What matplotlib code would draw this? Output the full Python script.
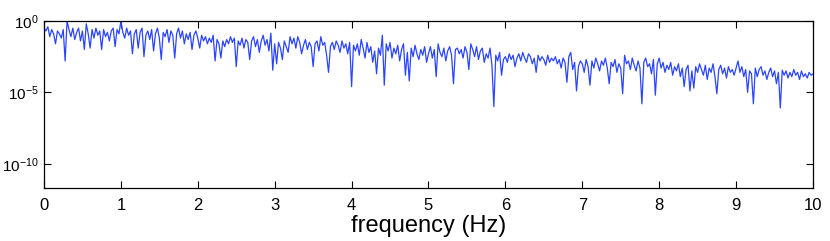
import numpy as np
import matplotlib
matplotlib.use("Agg")
import matplotlib.pyplot as plt
import matplotlib.ticker as ticker

plt.rcParams['font.family'] = ['Liberation Sans', 'DejaVu Sans']
plt.rcParams['mathtext.default'] = 'regular'

# log10 of the spectrum, one list per 1 Hz band (0.025 Hz steps)
band_0 = [-0.5, -0.7, -0.4, -1.1, -0.6, -0.9, -1.6, -0.7, -0.9, -1.2, -0.6, -2.8, 0.0, -0.6, -1.1, -0.5, -1.3, -0.8, -0.5, -1.4,
          -0.7, -2.0, -0.2, -0.9, -1.9, -0.6, -1.2, -0.5, -1.0, -0.7, -2.0, -0.6, -1.1, -0.8, -1.4, -0.7, -0.5, -1.8, -0.6, -0.9]
band_1 = [-0.0, -0.8, -1.2, -0.5, -1.0, -0.7, -2.3, -0.9, -0.6, -1.9, -0.8, -0.5, -2.5, -1.0, -0.7, -1.3, -0.6, -2.1, -0.9, -0.5,
          -1.2, -2.7, -0.8, -1.1, -0.6, -1.5, -0.7, -1.0, -2.6, -0.9, -0.5, -1.2, -0.7, -1.6, -0.9, -1.3, -0.8, -2.0, -1.0, -0.7]
band_2 = [-1.2, -1.9, -1.0, -1.4, -1.1, -1.6, -1.2, -1.5, -1.0, -2.8, -1.3, -1.6, -2.6, -1.4, -1.8, -1.3, -1.6, -1.1, -1.5, -1.2,
          -3.2, -1.4, -1.7, -1.2, -1.9, -1.3, -1.5, -2.7, -1.4, -1.1, -1.8, -1.3, -2.2, -1.4, -1.0, -1.7, -1.3, -2.1, -0.85, -3.45]
band_3 = [-1.6, -3.0, -1.5, -1.9, -2.7, -1.4, -1.8, -2.2, -1.1, -1.6, -1.2, -1.9, -1.1, -1.5, -2.3, -1.7, -1.3, -2.0, -1.5, -1.8,
          -3.2, -1.6, -1.4, -2.1, -1.1, -1.7, -1.5, -2.4, -3.6, -1.8, -1.5, -2.0, -1.4, -1.7, -2.2, -1.4, -1.9, -1.6, -2.3, -1.5]
band_4 = [-4.6, -1.7, -2.1, -1.6, -2.4, -1.3, -1.9, -2.6, -1.5, -2.2, -1.8, -2.9, -2.1, -3.7, -1.9, -2.4, -1.0, -4.5, -1.6, -2.1,
          -1.5, -2.6, -1.9, -2.3, -1.7, -2.8, -2.0, -1.6, -3.8, -2.2, -4.2, -1.9, -2.5, -1.7, -2.3, -2.7, -2.0, -2.4, -1.8, -2.9]
band_5 = [-2.3, -1.8, -2.6, -2.0, -3.9, -1.6, -2.2, -2.5, -1.9, -2.8, -2.1, -1.8, -2.4, -4.4, -2.0, -1.9, -2.3, -2.0, -2.6, -1.8,
          -2.2, -3.4, -1.6, -2.0, -2.5, -1.8, -2.7, -2.1, -1.9, -2.9, -2.3, -2.6, -1.9, -3.1, -6.0, -2.4, -2.8, -2.2, -3.8, -2.7]
band_6 = [-2.5, -2.9, -2.3, -2.7, -2.4, -3.2, -2.6, -2.3, -2.8, -2.2, -2.6, -2.9, -2.3, -2.5, -3.0, -2.6, -3.6, -2.4, -2.8, -2.5,
          -2.7, -3.1, -2.4, -2.9, -2.6, -2.8, -2.5, -3.0, -2.7, -3.3, -2.6, -2.9, -4.3, -2.5, -2.2, -3.4, -2.9, -4.9, -3.2, -2.8]
band_7 = [-3.0, -3.6, -2.7, -3.2, -4.5, -2.8, -3.3, -2.6, -3.0, -3.5, -2.8, -3.1, -2.6, -3.3, -4.4, -2.9, -3.2, -2.7, -3.6, -3.0,
          -3.3, -5.1, -2.4, -3.0, -2.8, -3.4, -2.6, -3.1, -3.5, -2.8, -3.3, -5.8, -2.9, -2.6, -3.2, -3.0, -3.7, -2.7, -5.2, -3.0]
band_8 = [-2.6, -3.3, -2.9, -3.6, -3.1, -3.4, -2.9, -3.8, -3.2, -3.5, -3.0, -3.9, -3.3, -4.6, -3.4, -3.1, -4.9, -3.5, -4.7, -3.2,
          -3.6, -3.0, -3.4, -3.8, -3.1, -4.1, -3.3, -3.6, -3.0, -3.9, -5.1, -3.4, -3.1, -3.7, -3.3, -4.0, -3.2, -3.6, -3.4, -3.8]
band_9 = [-3.3, -2.8, -3.6, -3.2, -3.9, -3.4, -5.0, -3.5, -3.7, -5.8, -3.3, -3.9, -3.4, -3.2, -3.8, -3.5, -4.1, -3.6, -3.3, -3.9,
          -3.5, -4.4, -3.6, -6.1, -3.45, -3.8, -3.5, -4.0, -3.6, -3.9, -3.4, -3.8, -3.6, -4.1, -3.5, -3.9, -3.7, -4.0, -3.6, -3.8, -3.7]

log_power = np.array(band_0 + band_1 + band_2 + band_3 + band_4 +
                     band_5 + band_6 + band_7 + band_8 + band_9)
freq = np.linspace(0, 10, len(log_power))
power = 10.0 ** log_power

fig = plt.figure(figsize=(8.3, 2.41), dpi=100)
ax = fig.add_axes([0.053, 0.22, 0.9265, 0.693])

ax.semilogy(freq, power, color='#2b45ff', lw=0.9)

ax.set_xlim(0, 10)
ax.set_ylim(10 ** -11.7, 1)
ax.set_xticks(range(11))
ax.set_yticks([1e0, 1e-5, 1e-10])
ax.yaxis.set_minor_locator(ticker.NullLocator())

ax.tick_params(direction='in', length=5, width=0.8, top=True, right=True,
               colors='black')
ax.tick_params(axis='x', pad=7, labelsize=12)
ax.tick_params(axis='y', pad=4, labelsize=11)
for s in ax.spines.values():
    s.set_linewidth(0.9)
    s.set_color('black')

ax.set_xlabel('frequency (Hz)', fontsize=17, labelpad=2)

fig.savefig('out.png', dpi=100)
